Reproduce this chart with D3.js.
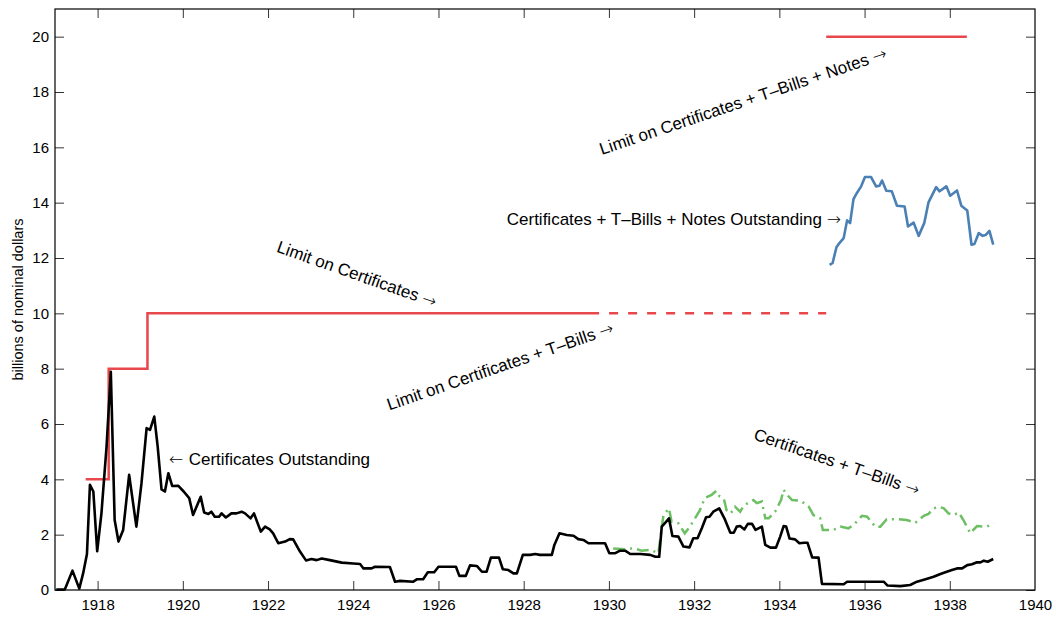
<!DOCTYPE html>
<html><head><meta charset="utf-8">
<script src="https://cdn.jsdelivr.net/npm/d3@7"></script>
<style>
body{margin:0;background:#fff}
svg text{font-family:"Liberation Sans",Arial,Helvetica,sans-serif;fill:#000}
</style>
</head><body>
<svg id="chart" width="1056" height="618"></svg>
<script>
// ---- data (billions of nominal dollars) ----
const certYears = [1917.03,1917.23,1917.41,1917.57,1917.66,1917.75,1917.82,1917.90,1917.99,1918.09,1918.21,1918.31,1918.40,1918.49,1918.60,1918.74,1918.91,1919.03,1919.15,1919.23,1919.33,1919.41,1919.50,1919.58,1919.66,1919.75,1919.89,1920.02,1920.15,1920.24,1920.42,1920.50,1920.60,1920.67,1920.75,1920.85,1920.91,1921.01,1921.14,1921.26,1921.38,1921.46,1921.59,1921.67,1921.83,1921.93,1922.04,1922.12,1922.24,1922.40,1922.51,1922.59,1922.75,1922.89,1923.02,1923.14,1923.26,1923.45,1923.73,1924.00,1924.16,1924.24,1924.43,1924.51,1924.86,1924.98,1925.10,1925.41,1925.50,1925.64,1925.75,1925.90,1926.00,1926.41,1926.49,1926.64,1926.74,1926.90,1927.02,1927.13,1927.23,1927.42,1927.51,1927.64,1927.76,1927.84,1927.98,1928.15,1928.27,1928.38,1928.66,1928.72,1928.84,1929.01,1929.17,1929.28,1929.40,1929.52,1929.91,1930.01,1930.15,1930.26,1930.38,1930.50,1930.74,1930.97,1931.09,1931.18,1931.24,1931.32,1931.41,1931.49,1931.63,1931.75,1931.89,1931.98,1932.08,1932.18,1932.28,1932.36,1932.45,1932.59,1932.71,1932.85,1932.93,1933.00,1933.08,1933.18,1933.26,1933.36,1933.44,1933.59,1933.67,1933.79,1933.92,1934.02,1934.10,1934.16,1934.24,1934.37,1934.47,1934.58,1934.66,1934.77,1934.92,1935.00,1935.51,1935.59,1936.45,1936.54,1936.84,1937.07,1937.23,1937.43,1937.62,1937.78,1937.93,1938.05,1938.17,1938.29,1938.41,1938.52,1938.64,1938.72,1938.80,1938.89,1939.02];
const certValues = [0.02,0.02,0.70,0.05,0.60,1.30,3.80,3.56,1.40,2.77,5.18,7.89,2.53,1.75,2.17,4.16,2.29,3.86,5.85,5.79,6.27,5.18,3.64,3.56,4.22,3.76,3.77,3.56,3.32,2.71,3.37,2.80,2.75,2.83,2.65,2.65,2.77,2.62,2.77,2.77,2.83,2.77,2.59,2.77,2.11,2.29,2.19,2.05,1.69,1.75,1.84,1.83,1.39,1.07,1.12,1.08,1.14,1.08,0.99,0.96,0.94,0.78,0.78,0.84,0.83,0.30,0.33,0.30,0.39,0.39,0.64,0.64,0.84,0.84,0.51,0.51,0.89,0.87,0.66,0.66,1.17,1.17,0.75,0.72,0.60,0.60,1.27,1.27,1.30,1.27,1.27,1.63,2.05,1.99,1.96,1.84,1.81,1.69,1.69,1.33,1.33,1.42,1.42,1.30,1.30,1.27,1.20,1.20,2.29,2.43,2.59,1.95,1.93,1.57,1.54,1.87,1.87,2.23,2.63,2.65,2.83,2.95,2.59,2.07,2.07,2.29,2.31,2.19,2.39,2.39,2.17,2.29,1.63,1.53,1.53,1.93,2.31,2.29,1.86,1.83,1.69,1.71,1.71,1.18,1.17,0.22,0.21,0.30,0.30,0.16,0.14,0.18,0.30,0.39,0.48,0.58,0.66,0.72,0.78,0.78,0.90,0.93,1.00,1.00,1.06,1.02,1.12];

const billsYears = [1930.10,1930.38,1930.57,1930.77,1930.97,1931.16,1931.28,1931.41,1931.47,1931.63,1931.78,1931.90,1932.13,1932.25,1932.41,1932.52,1932.60,1932.70,1932.76,1932.86,1932.96,1933.08,1933.16,1933.28,1933.39,1933.47,1933.59,1933.67,1933.75,1933.90,1934.04,1934.10,1934.18,1934.30,1934.49,1934.61,1934.69,1934.80,1934.96,1935.02,1935.27,1935.43,1935.62,1935.74,1935.94,1936.06,1936.25,1936.37,1936.52,1936.76,1936.99,1937.19,1937.39,1937.50,1937.62,1937.74,1937.86,1937.97,1938.09,1938.21,1938.32,1938.48,1938.64,1938.87,1939.03];
const billsValues = [1.50,1.47,1.51,1.42,1.45,1.33,2.71,2.95,2.47,2.41,2.05,2.29,2.87,3.32,3.44,3.58,3.38,3.28,2.89,2.77,3.01,2.83,3.04,3.16,3.25,3.14,3.20,2.59,2.59,2.83,3.25,3.62,3.44,3.25,3.23,3.11,3.01,2.71,2.59,2.17,2.17,2.29,2.23,2.35,2.68,2.65,2.29,2.29,2.56,2.56,2.53,2.43,2.68,2.75,2.95,3.01,2.95,2.77,2.71,2.80,2.53,2.05,2.31,2.29,2.41];

const notesYears = [1935.18,1935.25,1935.34,1935.41,1935.51,1935.59,1935.66,1935.74,1935.82,1935.92,1936.01,1936.15,1936.27,1936.35,1936.41,1936.51,1936.64,1936.76,1936.94,1937.02,1937.15,1937.27,1937.40,1937.50,1937.68,1937.76,1937.92,1938.01,1938.17,1938.27,1938.41,1938.51,1938.58,1938.68,1938.77,1938.84,1938.93,1939.02];
const notesValues = [11.75,11.82,12.39,12.54,12.72,13.36,13.26,14.13,14.35,14.59,14.93,14.93,14.59,14.61,14.80,14.43,14.41,13.89,13.86,13.14,13.28,12.80,13.26,14.01,14.56,14.41,14.59,14.25,14.44,13.89,13.72,12.48,12.51,12.90,12.80,12.83,12.98,12.48];

const limitCertYears = [1917.72,1918.26,1918.26,1919.17,1919.17,1929.77];
const limitCertValues = [4,4,8,8,10,10];
const limitBillsYears = [1929.77,1935.10];
const limitBillsValues = [10,10];
const limitNotesYears = [1935.10,1938.40];
const limitNotesValues = [20,20];

const xTicks = [1918,1920,1922,1924,1926,1928,1930,1932,1934,1936,1938,1940];
const yTicks = [0,2,4,6,8,10,12,14,16,18,20];

// ---- drawing ----
const svg = d3.select("#chart");
svg.append("rect").attr("width",1056).attr("height",618).attr("fill","#fff");
const L=55, R=1035, T=9, B=590;
const x = d3.scaleLinear().domain([1917,1940]).range([L,R]);
const y = d3.scaleLinear().domain([0,21]).range([B,T]);

const zip = (a,b)=>a.map((v,i)=>[v,b[i]]);
const line = d3.line().x(d=>x(d[0])).y(d=>y(d[1]));

const tk = 9;
const gx = svg.append("g").attr("transform",`translate(0,${B})`)
  .call(d3.axisBottom(x).tickValues(xTicks).tickFormat(d3.format("d")).tickSize(-tk).tickPadding(9));
const gy = svg.append("g").attr("transform",`translate(${L},0)`)
  .call(d3.axisLeft(y).tickValues(yTicks).tickSize(-tk).tickPadding(6));
const gt = svg.append("g").attr("transform",`translate(0,${T})`)
  .call(d3.axisTop(x).tickValues(xTicks).tickSize(-tk).tickFormat(""));
const gr = svg.append("g").attr("transform",`translate(${R},0)`)
  .call(d3.axisRight(y).tickValues(yTicks).tickSize(-tk).tickFormat(""));
[gx,gy,gt,gr].forEach(g=>{
  g.select(".domain").remove();
  g.selectAll(".tick line").attr("stroke","#000").attr("stroke-width",0.8);
  g.selectAll("text").style("font-size","15px").attr("font-family",'"Liberation Sans",Arial,sans-serif');
});
gx.selectAll(".tick").filter(d=>d===1940).select("line").remove();
gt.selectAll(".tick").filter(d=>d===1940).select("line").remove();

svg.append("text").attr("transform",`translate(18,${(T+B)/2}) rotate(-90)`)
  .attr("text-anchor","middle").attr("dominant-baseline","central")
  .style("font-size","14.5px").text("billions of nominal dollars");

// limits (red)
const red = "#e8474c";
svg.append("path").attr("d",line(zip(limitCertYears,limitCertValues)))
  .attr("fill","none").attr("stroke",red).attr("stroke-width",2.5);
svg.append("path").attr("d",line(zip(limitBillsYears,limitBillsValues)))
  .attr("fill","none").attr("stroke",red).attr("stroke-width",2.5)
  .attr("stroke-dasharray","9,10").attr("stroke-dashoffset",9);
svg.append("path").attr("d",line(zip(limitNotesYears,limitNotesValues)))
  .attr("fill","none").attr("stroke",red).attr("stroke-width",2.5);

// certificates + t-bills (green dash-dot)
svg.append("path").attr("d",line(zip(billsYears,billsValues)))
  .attr("fill","none").attr("stroke","#6dbf63").attr("stroke-width",2.5)
  .attr("stroke-dasharray","12,5,2,5");
// certificates outstanding (black)
svg.append("path").attr("d",line(zip(certYears,certValues)))
  .attr("fill","none").attr("stroke","#000").attr("stroke-width",2.6).attr("stroke-linejoin","round");
// certificates + bills + notes (blue)
svg.append("path").attr("d",line(zip(notesYears,notesValues)))
  .attr("fill","none").attr("stroke","#4a80b4").attr("stroke-width",2.6).attr("stroke-linejoin","round");

// box
svg.append("rect").attr("x",L).attr("y",T).attr("width",R-L).attr("height",B-T)
  .attr("fill","none").attr("stroke","#000").attr("stroke-width",1.2);

// annotations
const ann = [
  {pre:"\u2190 ", t:"Certificates Outstanding", post:"", x:169, y:459, a:"start", r:0},
  {pre:"", t:"Certificates + T\u2013Bills + Notes Outstanding ", post:"\u2192", x:841, y:219, a:"end", r:0},
  {pre:"", t:"Limit on Certificates ", post:"\u2192", x:357, y:274, a:"middle", r:19.5},
  {pre:"", t:"Limit on Certificates + T\u2013Bills ", post:"\u2192", x:500, y:366, a:"middle", r:-19},
  {pre:"", t:"Certificates + T\u2013Bills ", post:"\u2192", x:837, y:462, a:"middle", r:19},
  {pre:"", t:"Limit on Certificates + T\u2013Bills + Notes ", post:"\u2192", x:743, y:101, a:"middle", r:-18.7}
];
const at = svg.selectAll("text.ann").data(ann).join("text").attr("class","ann")
  .attr("transform",d=>`translate(${d.x},${d.y}) rotate(${d.r})`)
  .attr("text-anchor",d=>d.a).attr("dominant-baseline","central")
  .style("font-size","17px");
at.each(function(d){
  const s = d3.select(this);
  if(d.pre) s.append("tspan").style("font-family","'DejaVu Sans'").style("font-weight","200").text(d.pre);
  s.append("tspan").text(d.t);
  if(d.post) s.append("tspan").style("font-family","'DejaVu Sans'").style("font-weight","200").text(d.post);
});
</script>
</body></html>
